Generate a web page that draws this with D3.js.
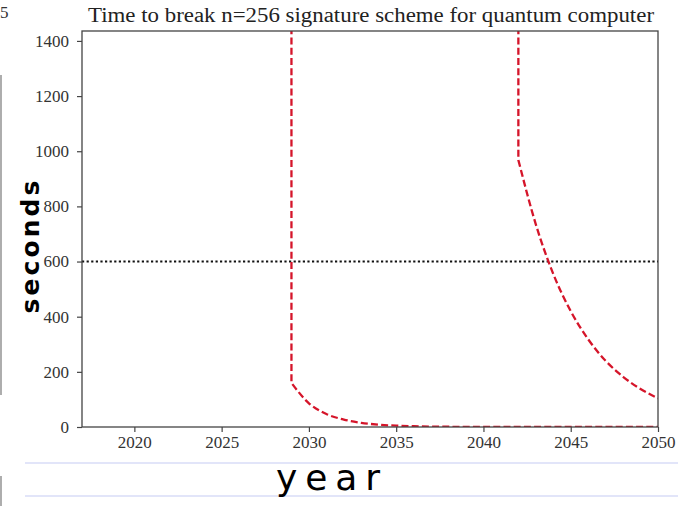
<!DOCTYPE html>
<html>
<head>
<meta charset="utf-8">
<script src="https://cdn.jsdelivr.net/npm/d3@7"></script>
<style>
  body { margin: 0; background: #fff; }
  svg { display: block; }
</style>
</head>
<body>
<svg id="chart" width="678" height="506"></svg>
<script>
'use strict';

// values
var yearTicks = [2020, 2025, 2030, 2035, 2040, 2045, 2050];
var secondTicks = [0, 200, 400, 600, 800, 1000, 1200, 1400];
var limitSeconds = 600;

// first scheme: vertical drop at 2029, then fast decay
var fastYears = [2029, 2030, 2031, 2032, 2033, 2034, 2035, 2036, 2037, 2038, 2040, 2043, 2046, 2050];
var fastSeconds = [160, 86, 47, 27, 15, 8.5, 4.8, 2.7, 1.5, 0.9, 0.3, 0.05, 0.01, 0];

// second scheme: vertical drop at 2042, then slower decay
var slowYears = [2042, 2043, 2044, 2045, 2046, 2047, 2048, 2049, 2050];
var slowSeconds = [968, 735, 555, 420, 318, 240, 182, 138, 104];

var svg = d3.select('#chart');
var margin = {left: 82, right: 20, top: 31, bottom: 79};
var W = 678, H = 506;

var x = d3.scaleLinear().domain([2017, 2050]).range([margin.left, W - margin.right]);
var y = d3.scaleLinear().domain([0, 1436]).range([H - margin.bottom, margin.top]);

// notebook paper behind the chart
svg.selectAll('line.paper')
  .data([463, 496])
  .enter().append('line')
  .attr('class', 'paper')
  .attr('x1', 25).attr('x2', W)
  .attr('y1', function(d){ return d; })
  .attr('y2', function(d){ return d; })
  .attr('stroke', '#d9ddf7').attr('stroke-width', 1.3);

svg.append('line').attr('x1', 1).attr('x2', 1).attr('y1', 75).attr('y2', 395)
  .attr('stroke', '#777').attr('stroke-width', 1.2);
svg.append('line').attr('x1', 1).attr('x2', 1).attr('y1', 476).attr('y2', 506)
  .attr('stroke', '#777').attr('stroke-width', 1.2);
svg.append('text').attr('x', 0).attr('y', 18)
  .attr('font-family', 'Liberation Serif').attr('font-size', 17).attr('fill', '#333')
  .text('5');

svg.append('clipPath').attr('id', 'plotclip')
  .append('rect')
  .attr('x', margin.left).attr('y', margin.top)
  .attr('width', W - margin.left - margin.right)
  .attr('height', H - margin.top - margin.bottom);

var plot = svg.append('g').attr('clip-path', 'url(#plotclip)');

// 600 s limit
plot.append('line')
  .attr('x1', x(2017)).attr('x2', x(2050))
  .attr('y1', y(limitSeconds)).attr('y2', y(limitSeconds))
  .attr('stroke', '#111').attr('stroke-width', 2)
  .attr('stroke-dasharray', '2.2,2.4');

var line = d3.line()
  .x(function(d){ return x(d[0]); })
  .y(function(d){ return y(d[1]); })
  .curve(d3.curveMonotoneX);

function dropPath(years, secs) {
  var pts = d3.zip(years, secs);
  var curve = line(pts);
  // vertical part from above the plot down to the first point
  return 'M' + x(years[0]) + ',' + y(5000) + 'L' + curve.slice(1);
}

[[fastYears, fastSeconds], [slowYears, slowSeconds]].forEach(function(s){
  plot.append('path')
    .attr('d', dropPath(s[0], s[1]))
    .attr('fill', 'none')
    .attr('stroke', '#d5152a')
    .attr('stroke-width', 2.3)
    .attr('stroke-dasharray', '7,3.2');
});

// frame
svg.append('rect')
  .attr('x', margin.left).attr('y', margin.top)
  .attr('width', W - margin.left - margin.right)
  .attr('height', H - margin.top - margin.bottom)
  .attr('fill', 'none').attr('stroke', '#444').attr('stroke-width', 1.3);

var xAxis = svg.append('g')
  .attr('transform', 'translate(0,' + (H - margin.bottom) + ')')
  .call(d3.axisBottom(x).tickValues(yearTicks).tickFormat(d3.format('d')).tickSize(5).tickPadding(4));
var yAxis = svg.append('g')
  .attr('transform', 'translate(' + margin.left + ',0)')
  .call(d3.axisLeft(y).tickValues(secondTicks).tickFormat(d3.format('d')).tickSize(5).tickPadding(8));

[xAxis, yAxis].forEach(function(a){
  a.select('.domain').remove();
  a.selectAll('line').attr('stroke', '#444').attr('stroke-width', 1.2);
  a.selectAll('text')
    .attr('font-family', 'Liberation Serif')
    .attr('font-size', 17)
    .attr('fill', '#333');
});

svg.append('text')
  .attr('x', 371).attr('y', 22)
  .attr('text-anchor', 'middle')
  .attr('font-family', 'Liberation Serif')
  .attr('font-size', 20)
  .attr('fill', '#222')
  .attr('textLength', 566)
  .attr('lengthAdjust', 'spacingAndGlyphs')
  .text('Time to break n=256 signature scheme for quantum computer');

// handwritten labels
svg.append('text')
  .attr('transform', 'translate(39,247) rotate(-90)')
  .attr('text-anchor', 'middle')
  .attr('font-family', 'DejaVu Sans')
  .attr('font-weight', 'bold')
  .attr('font-size', 25)
  .attr('fill', '#000')
  .attr('textLength', 133)
  .attr('lengthAdjust', 'spacing')
  .text('seconds');

svg.append('text')
  .attr('x', 328).attr('y', 490)
  .attr('text-anchor', 'middle')
  .attr('font-family', 'DejaVu Sans')
  .attr('font-size', 36)
  .attr('fill', '#000')
  .attr('textLength', 104)
  .attr('lengthAdjust', 'spacing')
  .text('year');
</script>
</body>
</html>
